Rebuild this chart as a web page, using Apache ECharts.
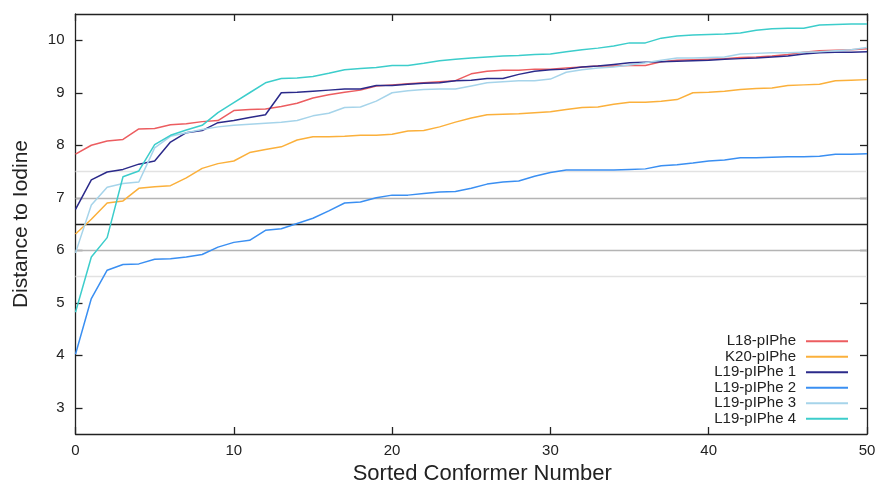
<!DOCTYPE html>
<html>
<head>
<meta charset="utf-8">
<script src="https://cdn.jsdelivr.net/npm/echarts@6/dist/echarts.min.js"></script>
<style>
html,body{margin:0;padding:0;background:#fff;}
#chart{width:879px;height:482px;}
</style>
</head>
<body>
<div id="chart"></div>
<script>
// Sorted conformer numbers (x)
var conformers = [0,1,2,3,4,5,6,7,8,9,10,11,12,13,14,15,16,17,18,19,20,21,22,23,24,25,26,27,28,29,30,31,32,33,34,35,36,37,38,39,40,41,42,43,44,45,46,47,48,49,50];

var seriesNames = ['L18-pIPhe','K20-pIPhe','L19-pIPhe 1','L19-pIPhe 2','L19-pIPhe 3','L19-pIPhe 4'];

var l18 = [7.83,8.00,8.08,8.11,8.31,8.32,8.39,8.41,8.45,8.47,8.66,8.68,8.69,8.74,8.80,8.90,8.96,9.01,9.05,9.13,9.15,9.17,9.19,9.21,9.23,9.36,9.41,9.43,9.43,9.45,9.45,9.47,9.49,9.51,9.51,9.52,9.52,9.59,9.62,9.63,9.64,9.65,9.67,9.68,9.70,9.73,9.77,9.80,9.81,9.82,9.84];
var k20 = [6.31,6.59,6.90,6.94,7.18,7.21,7.23,7.38,7.56,7.65,7.70,7.86,7.92,7.97,8.10,8.16,8.16,8.17,8.19,8.19,8.21,8.27,8.28,8.35,8.44,8.52,8.58,8.59,8.60,8.62,8.64,8.68,8.72,8.73,8.78,8.82,8.82,8.84,8.87,9.00,9.01,9.03,9.06,9.08,9.09,9.14,9.15,9.16,9.23,9.24,9.25];
var l19a = [6.78,7.34,7.49,7.54,7.64,7.70,8.06,8.24,8.28,8.43,8.47,8.53,8.58,9.00,9.01,9.03,9.05,9.07,9.07,9.14,9.14,9.16,9.18,9.19,9.23,9.24,9.27,9.27,9.35,9.41,9.44,9.45,9.49,9.51,9.54,9.57,9.58,9.59,9.60,9.61,9.62,9.64,9.65,9.66,9.68,9.70,9.74,9.76,9.77,9.77,9.78];
var l19b = [4.02,5.08,5.62,5.73,5.74,5.83,5.84,5.87,5.92,6.06,6.15,6.19,6.38,6.41,6.51,6.61,6.75,6.90,6.92,7.00,7.05,7.05,7.08,7.11,7.12,7.18,7.26,7.30,7.32,7.41,7.48,7.53,7.53,7.53,7.53,7.54,7.55,7.61,7.63,7.66,7.70,7.72,7.76,7.76,7.77,7.78,7.78,7.79,7.83,7.83,7.84];
var l19c = [5.95,6.86,7.20,7.27,7.30,7.95,8.17,8.24,8.30,8.35,8.38,8.40,8.42,8.44,8.47,8.56,8.61,8.72,8.73,8.84,9.00,9.04,9.06,9.07,9.07,9.13,9.19,9.21,9.23,9.23,9.26,9.39,9.44,9.47,9.49,9.53,9.57,9.62,9.66,9.66,9.67,9.68,9.74,9.75,9.76,9.76,9.77,9.78,9.80,9.82,9.86];
var l19d = [4.82,5.87,6.24,7.40,7.51,8.01,8.19,8.29,8.38,8.62,8.81,9.00,9.19,9.27,9.28,9.31,9.37,9.44,9.46,9.48,9.52,9.52,9.56,9.61,9.64,9.66,9.68,9.70,9.71,9.73,9.74,9.78,9.82,9.85,9.89,9.95,9.95,10.04,10.08,10.10,10.11,10.12,10.14,10.19,10.22,10.23,10.23,10.29,10.30,10.31,10.31];

var seriesValues = [l18, k20, l19a, l19b, l19c, l19d];

// Tick labels
var xTicks = [0,10,20,30,40,50];
var yTicks = [3,4,5,6,7,8,9,10];

// Horizontal reference lines
var refLines = [5.5, 6, 6.5, 7, 7.5];

// Styles (kept separate from data)
var colors = ['#ec5d60','#fbb03b','#2b2a8a','#3a8ff2','#a6d4ea','#3ccdcb'];
var refColors = {5.5:'#e2e2e2', 6:'#b4b4b4', 6.5:'#222222', 7:'#b4b4b4', 7.5:'#e2e2e2'};

var FONT = 'Liberation Sans, Arial, sans-serif';
var AXC = '#222';

function pairs(vals){
  return conformers.map(function(x, i){ return [x, vals[i]]; });
}

var series = [{
  type: 'line',
  name: '__ref',
  data: [],
  silent: true,
  z: 1,
  markLine: {
    silent: true,
    symbol: ['none','none'],
    label: {show: false},
    z: 1,
    animation: false,
    data: refLines.map(function(v){
      return {yAxis: v, lineStyle: {color: refColors[v], width: 1.3, type: 'solid'}};
    })
  }
}];
seriesNames.forEach(function(n, i){
  series.push({
    type: 'line',
    name: n,
    data: pairs(seriesValues[i]),
    showSymbol: false,
    symbol: 'none',
    z: 3 + i,
    lineStyle: {width: 1.5, color: colors[i]},
    itemStyle: {color: colors[i]},
    emphasis: {disabled: true}
  });
});

var chart = echarts.init(document.getElementById('chart'), null, {renderer: 'canvas'});
chart.setOption({
  animation: false,
  backgroundColor: '#fff',
  textStyle: {fontFamily: FONT},
  grid: {left: 75.5, right: 12, top: 14, bottom: 48, containLabel: false, outerBoundsMode: 'none'},
  legend: {
    data: seriesNames,
    orient: 'vertical',
    align: 'right',
    right: 26,
    top: 328.5,
    itemGap: 0,
    itemWidth: 42,
    itemHeight: 2,
    icon: 'rect',
    selectedMode: false,
    textStyle: {fontFamily: FONT, fontSize: 15, color: AXC, lineHeight: 15.5, padding: [0, 5, 0, 0]}
  },
  xAxis: [{
    type: 'value',
    min: 0, max: 50, interval: 10,
    name: 'Sorted Conformer Number',
    nameLocation: 'middle',
    nameGap: 29,
    nameTextStyle: {fontFamily: FONT, fontSize: 22, color: AXC, padding: [0, 0, 0, 22]},
    axisLine: {show: true, onZero: false, lineStyle: {color: AXC, width: 1.3}},
    axisTick: {show: true, inside: true, length: 7, lineStyle: {color: AXC, width: 1.3}, customValues: xTicks},
    axisLabel: {show: true, margin: 9, fontFamily: FONT, fontSize: 15, color: AXC, customValues: xTicks},
    splitLine: {show: false}
  }, {
    type: 'value',
    position: 'top',
    min: 0, max: 50, interval: 10,
    axisLine: {show: true, onZero: false, lineStyle: {color: AXC, width: 1.3}},
    axisTick: {show: true, inside: true, length: 7, lineStyle: {color: AXC, width: 1.3}, customValues: xTicks},
    axisLabel: {show: false},
    splitLine: {show: false}
  }],
  yAxis: [{
    type: 'value',
    min: 2.5, max: 10.5, interval: 0.5,
    name: 'Distance to Iodine',
    nameLocation: 'middle',
    nameGap: 44,
    nameTextStyle: {fontFamily: FONT, fontSize: 21, color: AXC},
    axisLine: {show: true, onZero: false, lineStyle: {color: AXC, width: 1.3}},
    axisTick: {show: true, inside: true, length: 7, lineStyle: {color: AXC, width: 1.3}, customValues: yTicks},
    axisLabel: {show: true, margin: 11, fontFamily: FONT, fontSize: 15, color: AXC, customValues: yTicks},
    splitLine: {show: false}
  }, {
    type: 'value',
    position: 'right',
    min: 2.5, max: 10.5, interval: 0.5,
    axisLine: {show: true, onZero: false, lineStyle: {color: AXC, width: 1.3}},
    axisTick: {show: true, inside: true, length: 7, lineStyle: {color: AXC, width: 1.3}, customValues: yTicks},
    axisLabel: {show: false},
    splitLine: {show: false}
  }],
  series: series
});
</script>
</body>
</html>
